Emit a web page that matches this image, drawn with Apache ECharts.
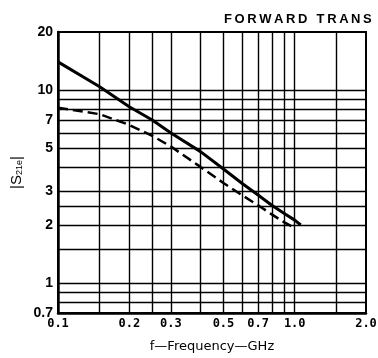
<!DOCTYPE html>
<html>
<head>
<meta charset="utf-8">
<script src="https://cdn.jsdelivr.net/npm/echarts@6/dist/echarts.min.js"></script>
<style>
    html, body { margin: 0; padding: 0; background: #fff; }
    #chart { width: 378px; height: 358px; }
</style>
</head>
<body>
<div id="chart"></div>
<script>
    // solid curve
    const freqSolid = [0.1, 0.15, 0.2, 0.25, 0.3, 0.4, 0.5, 0.6, 0.7, 0.8, 0.9, 1.0, 1.06];
    const s21Solid = [14, 10.4, 8.2, 7.0, 6.0, 4.8, 3.9, 3.28, 2.86, 2.53, 2.3, 2.12, 2.0];
    // dashed curve
    const freqDashed = [0.1, 0.15, 0.2, 0.25, 0.3, 0.4, 0.5, 0.6, 0.7, 0.8, 0.9, 1.0];
    const s21Dashed = [8.1, 7.5, 6.6, 5.8, 5.1, 4.0, 3.3, 2.85, 2.53, 2.27, 2.07, 1.93];

    // grid lines and tick labels
    const gridX = [0.15, 0.2, 0.25, 0.3, 0.4, 0.5, 0.6, 0.7, 0.8, 0.9, 1.0, 1.5];
    const gridY = [0.8, 0.9, 1, 1.5, 2, 2.5, 3, 4, 5, 6, 7, 8, 9, 10];
    const xTickLabels = ['0.1', '0.2', '0.3', '0.5', '0.7', '1.0', '2.0'];
    const yTickLabels = ['20', '10', '7', '5', '3', '2', '1', '0.7'];

    const titleWords = ['FORWARD', 'TRANS'];

    let myChart = echarts.init(document.getElementById('chart'));

    let xLabelFont = {
        color: '#000',
        fontFamily: 'DejaVu Sans Mono',
        fontWeight: 'bold',
        fontSize: 12
    };
    let yLabelFont = {
        color: '#000',
        fontFamily: 'Liberation Sans Narrow, Liberation Sans, Arial',
        fontWeight: 'bold',
        fontSize: 14
    };

    // spaced-out caps like the printed heading
    let titleText = titleWords.map(w => w.split('').join('\u2009')).join('\u2002\u2009');

    let option = {
        animation: false,
        backgroundColor: '#fff',
        title: {
            text: titleText,
            left: 224,
            top: 13,
            padding: 0,
            textStyle: {
                fontFamily: 'Liberation Sans, Arial',
                fontWeight: 'bold',
                fontSize: 13,
                color: '#000'
            }
        },
        grid: {
            left: 58,
            right: 12,
            top: 32,
            bottom: 42,
            show: true,
            borderColor: '#000',
            borderWidth: 2
        },
        xAxis: {
            type: 'log',
            logBase: 10,
            min: 0.1,
            max: 2,
            name: 'f\u2014Frequency\u2014GHz',
            nameLocation: 'middle',
            nameGap: 27,
            nameTextStyle: {
                fontFamily: 'DejaVu Sans',
                fontSize: 13,
                color: '#000'
            },
            axisLine: { show: true, lineStyle: { color: '#000', width: 2.5 } },
            axisTick: { show: false },
            axisLabel: { show: false },
            splitLine: { show: false }
        },
        yAxis: {
            type: 'log',
            logBase: 10,
            min: 0.7,
            max: 20,
            name: '|S{sub|21e}|',
            nameLocation: 'middle',
            nameRotate: 90,
            nameGap: 34,
            nameTextStyle: {
                fontFamily: 'Liberation Sans, Arial',
                fontSize: 15,
                color: '#000',
                rich: {
                    sub: { fontSize: 9, verticalAlign: 'bottom', padding: [5, 0, 0, 0] }
                }
            },
            axisLine: { show: true, lineStyle: { color: '#000', width: 2.5 } },
            axisTick: { show: false },
            axisLabel: { show: false },
            splitLine: { show: false }
        },
        series: [
            {
                name: 'grid',
                type: 'line',
                data: [],
                silent: true,
                markLine: {
                    silent: true,
                    symbol: 'none',
                    z: 1,
                    label: { show: false },
                    lineStyle: { color: '#000', type: 'solid', width: 1.4 },
                    data: gridX.map(v => ({ xAxis: v })).concat(gridY.map(v => ({ yAxis: v })))
                }
            },
            {
                name: 'xlabels',
                type: 'line',
                data: [],
                silent: true,
                markLine: {
                    silent: true,
                    symbol: 'none',
                    z: 1,
                    lineStyle: { color: 'rgba(0,0,0,0)', width: 0 },
                    label: Object.assign({
                        show: true,
                        position: 'start',
                        distance: 5,
                        formatter: p => p.value.toFixed(1)
                    }, xLabelFont),
                    data: xTickLabels.map(v => ({ xAxis: parseFloat(v) }))
                }
            },
            {
                name: 'ylabels',
                type: 'line',
                data: [],
                silent: true,
                markLine: {
                    silent: true,
                    symbol: 'none',
                    z: 1,
                    lineStyle: { color: 'rgba(0,0,0,0)', width: 0 },
                    label: Object.assign({
                        show: true,
                        position: 'start',
                        distance: 5,
                        formatter: p => String(p.value)
                    }, yLabelFont),
                    data: yTickLabels.map(v => ({ yAxis: parseFloat(v) }))
                }
            },
            {
                name: 'solid',
                type: 'line',
                z: 5,
                showSymbol: false,
                lineStyle: { color: '#000', width: 3 },
                data: freqSolid.map((f, i) => [f, s21Solid[i]])
            },
            {
                name: 'dashed',
                type: 'line',
                z: 5,
                showSymbol: false,
                lineStyle: { color: '#000', width: 2.5, type: [10, 5] },
                data: freqDashed.map((f, i) => [f, s21Dashed[i]])
            }
        ]
    };

    myChart.setOption(option);
</script>
</body>
</html>
